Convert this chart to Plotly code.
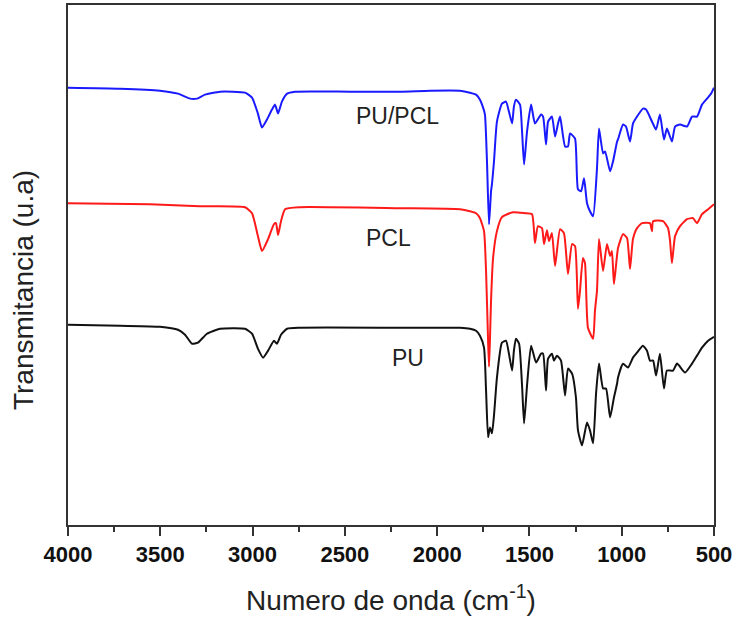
import plotly.graph_objects as go

# FTIR spectra (wavenumber in cm-1, transmittance in arbitrary units, stacked)
pu_pcl_wn = [4000, 3718, 3502, 3404, 3339, 3301, 3258, 3176, 3041, 3003, 2971, 2949,
             2922, 2895, 2878, 2862, 2841, 2813, 2770, 2472, 2201, 2039, 1876, 1822,
             1789, 1768, 1751, 1741, 1730, 1719, 1708, 1703, 1692, 1676, 1649, 1627,
             1611, 1594, 1584, 1573, 1551, 1540, 1529, 1513, 1491, 1470, 1437, 1426,
             1410, 1399, 1378, 1361, 1345, 1334, 1307, 1291, 1280, 1253, 1237, 1220,
             1204, 1188, 1172, 1155, 1134, 1123, 1101, 1090, 1063, 1047, 1025, 1020,
             993, 977, 955, 939, 917, 885, 868, 836, 814, 793, 771, 755, 728, 711,
             684, 646, 619, 592, 565, 538, 516, 500]
pu_pcl_t = [87.8, 87.6, 87.2, 86.6, 85.6, 85.6, 86.4, 87.0, 86.8, 85.8, 82.6, 79.8,
            81.4, 83.4, 84.4, 82.6, 85.0, 86.6, 87.0, 87.0, 87.0, 87.2, 87.2, 86.8,
            86.4, 85.4, 83.8, 82.4, 73.0, 60.4, 67.0, 68.4, 73.0, 81.0, 84.6, 85.0,
            83.0, 80.6, 84.0, 85.4, 84.4, 79.0, 72.4, 79.0, 84.4, 80.6, 82.4, 82.0,
            76.4, 81.0, 82.0, 78.0, 80.6, 82.0, 76.0, 76.0, 78.6, 77.6, 67.4, 67.0,
            69.6, 64.6, 63.0, 62.0, 71.6, 79.6, 74.6, 75.0, 71.0, 73.0, 77.0, 77.4,
            80.4, 80.0, 77.0, 80.6, 82.0, 83.6, 83.4, 81.0, 79.4, 82.4, 77.4, 79.6,
            77.0, 80.0, 80.4, 80.0, 82.0, 82.0, 84.4, 85.6, 86.6, 87.8]

pcl_wn = [4000, 3556, 3285, 3041, 3003, 2971, 2949, 2916, 2884, 2873, 2862, 2846,
          2824, 2743, 2201, 1876, 1822, 1789, 1768, 1746, 1735, 1724, 1719, 1714,
          1708, 1697, 1676, 1649, 1589, 1524, 1486, 1470, 1454, 1432, 1421, 1405,
          1394, 1378, 1361, 1334, 1313, 1291, 1269, 1253, 1237, 1226, 1210, 1199,
          1183, 1155, 1145, 1134, 1123, 1101, 1080, 1063, 1053, 1042, 1020, 993,
          971, 955, 939, 917, 890, 847, 836, 830, 776, 749, 738, 728, 711, 684,
          646, 614, 592, 565, 532, 500]
pcl_t = [64.6, 64.4, 64.0, 63.8, 62.6, 58.0, 55.0, 57.4, 60.4, 60.6, 58.2, 61.0,
         63.4, 63.8, 63.6, 63.4, 63.0, 62.6, 61.6, 59.0, 51.0, 37.0, 31.8, 37.0,
         45.0, 53.6, 59.0, 61.8, 62.8, 62.6, 62.4, 56.6, 60.0, 59.6, 56.4, 59.2,
         57.0, 58.6, 52.0, 59.4, 58.6, 50.4, 56.4, 56.0, 43.4, 47.0, 53.6, 52.6,
         39.6, 37.4, 43.0, 47.0, 57.4, 51.0, 56.4, 54.0, 55.0, 48.4, 55.6, 58.4,
         57.6, 51.4, 57.4, 59.6, 60.6, 60.6, 59.0, 61.0, 61.0, 59.6, 57.0, 52.6,
         58.0, 60.0, 61.4, 61.6, 60.6, 62.4, 63.4, 64.4]

pu_wn = [4000, 3718, 3502, 3404, 3366, 3328, 3296, 3247, 3176, 3041, 3003, 2971,
         2943, 2916, 2884, 2868, 2846, 2813, 2743, 2201, 1876, 1822, 1789, 1768,
         1746, 1735, 1724, 1714, 1703, 1692, 1676, 1649, 1627, 1611, 1594, 1584,
         1573, 1556, 1540, 1529, 1513, 1491, 1464, 1437, 1426, 1410, 1399, 1378,
         1367, 1351, 1329, 1307, 1291, 1269, 1248, 1237, 1215, 1188, 1172, 1155,
         1139, 1123, 1101, 1085, 1063, 1042, 1025, 1020, 993, 966, 939, 917, 885,
         863, 847, 830, 814, 793, 771, 755, 722, 700, 657, 619, 592, 565, 532, 500]
pu_t = [40.2, 40.0, 39.8, 39.2, 38.2, 36.4, 36.6, 38.4, 39.4, 39.4, 38.4, 35.4,
        33.6, 35.0, 37.0, 36.4, 38.2, 39.4, 39.6, 39.6, 39.6, 39.4, 39.0, 38.0,
        35.6, 27.0, 17.6, 19.6, 18.4, 22.0, 29.6, 36.6, 37.0, 34.4, 31.0, 35.0,
        37.4, 36.4, 28.0, 20.4, 28.0, 36.0, 32.6, 34.4, 34.4, 27.0, 33.4, 34.4,
        33.0, 34.0, 33.0, 26.0, 31.4, 30.4, 25.6, 19.0, 16.0, 20.6, 19.0, 16.4,
        26.4, 32.4, 27.4, 27.4, 21.6, 25.6, 28.4, 29.6, 32.4, 31.6, 33.6, 34.6, 36.0,
        35.0, 33.0, 33.0, 30.0, 34.4, 27.4, 31.0, 31.0, 32.4, 30.6, 32.4, 34.0, 35.6, 37.0, 37.8]

series = [
    ("PU/PCL", pu_pcl_wn, pu_pcl_t, "#1a1aff"),
    ("PCL", pcl_wn, pcl_t, "#ff1a1a"),
    ("PU", pu_wn, pu_t, "#111111"),
]

# label anchor points (wavenumber, transmittance)
label_wn = [2217, 2261, 2158]
label_t = [82.2, 57.6, 33.6]

FONT = "Liberation Sans, Arial, sans-serif"

fig = go.Figure()
for name, wn, t, color in series:
    fig.add_trace(go.Scatter(
        x=wn, y=t, mode="lines", name=name,
        line=dict(color=color, width=2, shape="spline", smoothing=0.5),
        showlegend=False,
    ))

for (name, _, _, _), lx, ly in zip(series, label_wn, label_t):
    fig.add_annotation(x=lx, y=ly, text=name, showarrow=False,
                       font=dict(family=FONT, size=23, color="#222222"))

fig.add_annotation(
    xref="paper", yref="paper", x=-0.068, y=0.452, text="Transmitancia (u.a)",
    textangle=-90, showarrow=False, xanchor="center", yanchor="middle",
    font=dict(family=FONT, size=28, color="#222222"),
)

fig.update_layout(
    width=738, height=620,
    margin=dict(l=68, r=24, t=3, b=95),
    paper_bgcolor="white", plot_bgcolor="white",
    xaxis=dict(
        range=[4000, 500], showgrid=False, zeroline=False,
        showline=True, mirror=True, linecolor="#333333", linewidth=2,
        ticks="outside", ticklen=9, tickwidth=1.5, tickcolor="#333333",
        tickmode="array", tickvals=[4000, 3500, 3000, 2500, 2000, 1500, 1000, 500],
        ticktext=["4000", "3500", "3000", "2500", "2000", "1500", "1000", "500"],
        tickfont=dict(family=FONT, size=22, color="#111111", weight="bold"),
        minor=dict(ticks="outside", ticklen=5, tickwidth=1.5, tickcolor="#333333", dtick=250, tick0=500),
        title=dict(text="Numero de onda (cm<sup>-1</sup>)", standoff=24,
                   font=dict(family=FONT, size=28, color="#222222")),
    ),
    yaxis=dict(
        range=[0, 104.4], showgrid=False, zeroline=False,
        showline=True, mirror=True, linecolor="#333333", linewidth=2,
        showticklabels=False, ticks="",
    ),
)

fig.write_html("out.html")
